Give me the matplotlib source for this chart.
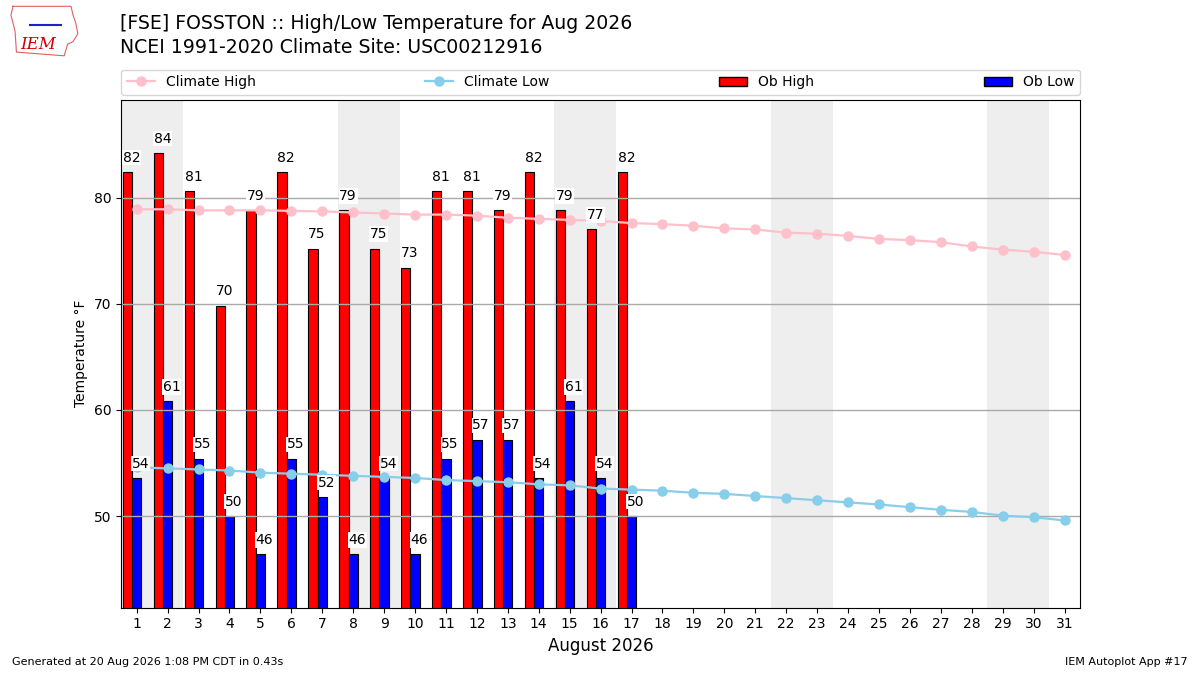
import numpy as np
import matplotlib
matplotlib.use("Agg")
import matplotlib.pyplot as plt
from matplotlib.patches import Patch
from matplotlib.lines import Line2D

# Data
days = list(range(1, 32))
ob_days = list(range(1, 18))
ob_high = [82.4, 84.2, 80.6, 69.8, 78.8, 82.4, 75.2, 78.8, 75.2, 73.4,
           80.6, 80.6, 78.8, 82.4, 78.8, 77.0, 82.4]
ob_low = [53.6, 60.8, 55.4, 50.0, 46.4, 55.4, 51.8, 46.4, 53.6, 46.4,
          55.4, 57.2, 57.2, 53.6, 60.8, 53.6, 50.0]
clim_high = [78.9, 78.9, 78.8, 78.8, 78.8, 78.75, 78.7, 78.6, 78.5, 78.4,
             78.4, 78.3, 78.1, 78.0, 77.9, 77.8, 77.6, 77.5, 77.35, 77.1,
             77.0, 76.7, 76.6, 76.4, 76.1, 76.0, 75.8, 75.4, 75.1, 74.9, 74.6]
clim_low = [54.6, 54.5, 54.4, 54.3, 54.1, 54.0, 53.9, 53.8, 53.7, 53.6,
            53.4, 53.3, 53.2, 53.0, 52.9, 52.6, 52.5, 52.4, 52.2, 52.1,
            51.9, 51.7, 51.5, 51.3, 51.1, 50.85, 50.6, 50.4, 50.05, 49.9, 49.6]
weekends = [(1, 2), (8, 9), (15, 16), (22, 23), (29, 30)]

title1 = "[FSE] FOSSTON :: High/Low Temperature for Aug 2026"
title2 = "NCEI 1991-2020 Climate Site: USC00212916"

fig = plt.figure(figsize=(12, 6.75), dpi=100)
ax = fig.add_axes([0.101, 0.1, 0.799, 0.752])

for a, b in weekends:
    ax.axvspan(a - 0.5, b + 0.5, color="#EEEEEE", zorder=0, lw=0)

x = np.array(ob_days)
ax.bar(x - 0.45, ob_high, width=0.3, align="edge", fc="r", ec="k", lw=0.8, zorder=1)
ax.bar(x - 0.15, ob_low, width=0.3, align="edge", fc="b", ec="k", lw=0.8, zorder=1)

ax.plot(days, clim_high, color="pink", marker="o", ms=6.5, lw=1.6, zorder=3)
ax.plot(days, clim_low, color="skyblue", marker="o", ms=6.5, lw=1.6, zorder=3)

box = dict(fc="white", ec="none", pad=0.5)
for d, h, l in zip(ob_days, ob_high, ob_low):
    ax.text(d - 0.45, h + 0.7, f"{h:.0f}", ha="left", va="bottom", fontsize=10,
            zorder=4, bbox=box)
    ax.text(d - 0.15, l + 0.7, f"{l:.0f}", ha="left", va="bottom", fontsize=10,
            zorder=4, bbox=box)

ymin = min(ob_low) - 5
ymax = max(ob_high) + 5
ax.set_ylim(ymin, ymax)
ax.set_xlim(0.5, 31.5)
ax.set_xticks(days)
ax.set_yticks([50, 60, 70, 80])
ax.yaxis.grid(True, color="#aaaaaa", lw=1)
ax.tick_params(labelsize=10)
ax.set_ylabel("Temperature \u00b0F", fontsize=10)
ax.set_xlabel("August 2026", fontsize=12)

handles = [
    Line2D([], [], color="pink", marker="o", ms=6.5, lw=1.6, label="Climate High"),
    Line2D([], [], color="skyblue", marker="o", ms=6.5, lw=1.6, label="Climate Low"),
    Patch(fc="r", ec="k", label="Ob High"),
    Patch(fc="b", ec="k", label="Ob Low"),
]
ax.legend(handles=handles, loc="lower left", bbox_to_anchor=(0, 1.01, 1, 0.05),
          ncol=4, mode="expand", borderaxespad=0, fontsize=10)

fig.text(0.1, 0.965, title1, fontsize=13.6, va="center", ha="left")
fig.text(0.1, 0.929, title2, fontsize=13.6, va="center", ha="left")

# rough stand-in for the IEM logo (state outline + text)
lax = fig.add_axes([0.008, 0.915, 0.058, 0.078])
lax.axis("off")
ox = [0.05, 0.9, 0.93, 0.97, 1.0, 0.93, 0.85, 0.8, 0.1, 0.08, 0.02, 0.05]
oy = [0.97, 0.97, 0.8, 0.65, 0.45, 0.3, 0.25, 0.03, 0.1, 0.5, 0.8, 0.97]
lax.plot(ox, oy, color="#e06060", lw=0.8)
lax.set_xlim(0, 1.02)
lax.set_ylim(0, 1)
lax.plot([0.3, 0.75], [0.62, 0.62], color="#2020c0", lw=1.5)
lax.text(0.42, 0.25, "IEM", color="#cc0000", fontsize=12, fontstyle="italic",
         family="DejaVu Serif", ha="center", va="center")

fig.text(0.01, 0.015, "Generated at 20 Aug 2026 1:08 PM CDT in 0.43s", fontsize=8)
fig.text(0.99, 0.015, "IEM Autoplot App #17", fontsize=8, ha="right")

fig.savefig("out.png", dpi=100)
